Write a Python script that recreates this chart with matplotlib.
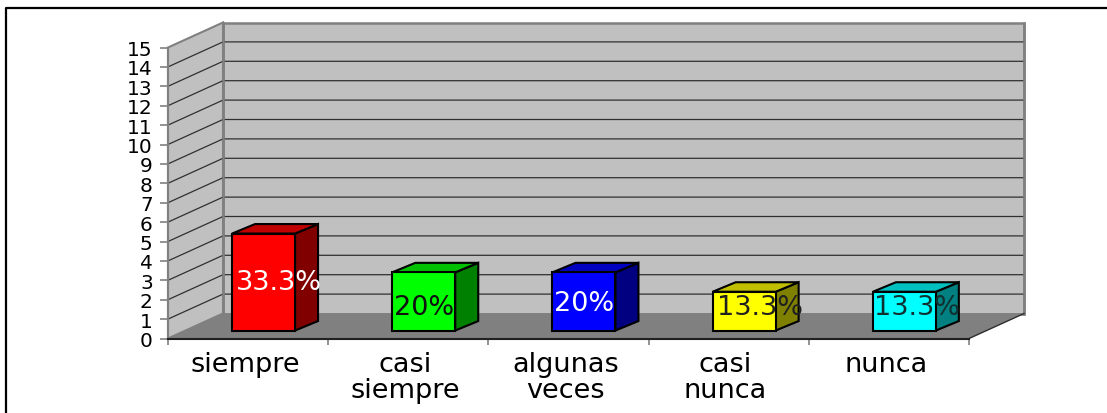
import numpy as np
import matplotlib
matplotlib.use('Agg')
import matplotlib.pyplot as plt
from matplotlib.lines import Line2D

categories = ['siempre', 'casi\nsiempre', 'algunas\nveces', 'casi\nnunca', 'nunca']
values = [5, 3, 3, 2, 2]
percent_labels = ['33.3%', '20%', '20%', '13.3%', '13.3%']
y_ticks = list(range(0, 16))

front_colors = ['#ff0000', '#00ff00', '#0000ff', '#ffff00', '#00ffff']
top_colors = ['#c00000', '#00c000', '#0000c0', '#c0c000', '#00c0c0']
side_colors = ['#800000', '#008000', '#000080', '#808000', '#008080']
text_colors = ['white', '#101010', 'white', '#202020', '#103030']

W, H = 1107, 414

# 3d look: depth of the box in data units
depth_x = 55 / 160.2
depth_y = 25 / 19.4
bar_left = 0.40
bar_width = 0.393
bar_base = 0.41
bar_dx = 23 / 160.2
bar_dy = 9.5 / 19.4

# label nudges in px from middle of the front face (up is positive)
label_dx = [15, 0, 0, 16, 13]
label_dy = [0, -6, -2, 4.5, 4.5]

fig = plt.figure()
fig.set_size_inches(W / 100, H / 100)
fig.set_dpi(100)
ax = fig.add_axes([168 / W, (H - 339.5) / H, 801 / W, 291 / H])
ax.set_xlim(0, 5)
ax.set_ylim(0, 15)
ax.patch.set_visible(False)

# walls and floor
ax.fill([0, depth_x, depth_x, 0], [0, depth_y, 15 + depth_y, 15],
        color='#c0c0c0', ec='#808080', lw=1.5, clip_on=False, zorder=1)
ax.fill([depth_x, 5 + depth_x, 5 + depth_x, depth_x], [depth_y, depth_y, 15 + depth_y, 15 + depth_y],
        color='#c0c0c0', ec='#808080', lw=1.8, clip_on=False, zorder=1)
ax.fill([0, 5, 5 + depth_x, depth_x], [0, 0, depth_y, depth_y],
        color='#808080', ec='#808080', lw=0.5, clip_on=False, zorder=2)

for v in y_ticks[1:-1]:
    ax.plot([0, depth_x, 5 + depth_x], [v, v + depth_y, v + depth_y],
            color='#303030', lw=0.9, clip_on=False, zorder=1.5)
# wall corner goes over the grid lines
ax.plot([depth_x, depth_x], [depth_y, 15 + depth_y], color='#808080', lw=1.8, clip_on=False, zorder=1.6)
ax.plot([5 + depth_x, 5 + depth_x], [depth_y, 15 + depth_y], color='#808080', lw=1.8, clip_on=False, zorder=1.6)

# bars, one box per category
for i, val in enumerate(values):
    x0 = i + bar_left
    x1 = x0 + bar_width
    y0 = bar_base
    y1 = bar_base + val
    ax.fill([x1, x1 + bar_dx, x1 + bar_dx, x1], [y0, y0 + bar_dy, y1 + bar_dy, y1],
            color=side_colors[i], ec='black', lw=1.5, clip_on=False, zorder=3)
    ax.fill([x0, x1, x1 + bar_dx, x0 + bar_dx], [y1, y1, y1 + bar_dy, y1 + bar_dy],
            color=top_colors[i], ec='black', lw=1.5, clip_on=False, zorder=3)
    ax.bar(x0, val, width=bar_width, bottom=y0, align='edge', color=front_colors[i],
           ec='black', lw=1.5, clip_on=False, zorder=4)
    ax.annotate(percent_labels[i], (x0 + bar_width / 2, y0 + val / 2),
                xytext=(label_dx[i] * 0.72, label_dy[i] * 0.72), textcoords='offset points',
                ha='center', va='center', color=text_colors[i], fontsize=19.5,
                family='DejaVu Sans', zorder=5)

ax.set_yticks(y_ticks)
ax.set_yticklabels([str(t) for t in y_ticks], fontsize=14.5, family='DejaVu Sans', color='black')
ax.set_xticks(np.arange(0, 6))
ax.set_xticklabels([])
ax.set_xticks(np.arange(len(categories)) + 0.48, labels=categories, minor=True)
ax.tick_params(axis='x', which='minor', length=0, pad=9, labelsize=19.5)
ax.tick_params(axis='x', which='major', length=4, color='#808080', width=1.2)
ax.tick_params(axis='y', length=6, color='#808080', width=1.2, pad=5)
for lab in ax.get_xticklabels(minor=True):
    lab.set_linespacing(1.02)
    lab.set_family('DejaVu Sans')

ax.spines['top'].set_visible(False)
ax.spines['right'].set_visible(False)
ax.spines['left'].set_color('#808080')
ax.spines['left'].set_linewidth(1.5)
ax.spines['left'].set_zorder(2.5)
ax.spines['bottom'].set_color('#202020')
ax.spines['bottom'].set_linewidth(1.5)
ax.spines['bottom'].set_zorder(2.5)

# front right corner of the floor
ax.plot([5, 5 + depth_x], [0, depth_y], color='#303030', lw=1, clip_on=False, zorder=2.5)

# black frame: only left and top edges reach into the crop
frame_l, frame_t = 6 / W, 1 - 9 / H
fig.add_artist(Line2D([frame_l, frame_l, 1], [0, frame_t, frame_t], color='black', lw=1.6))

fig.savefig('out.png', dpi=100)
